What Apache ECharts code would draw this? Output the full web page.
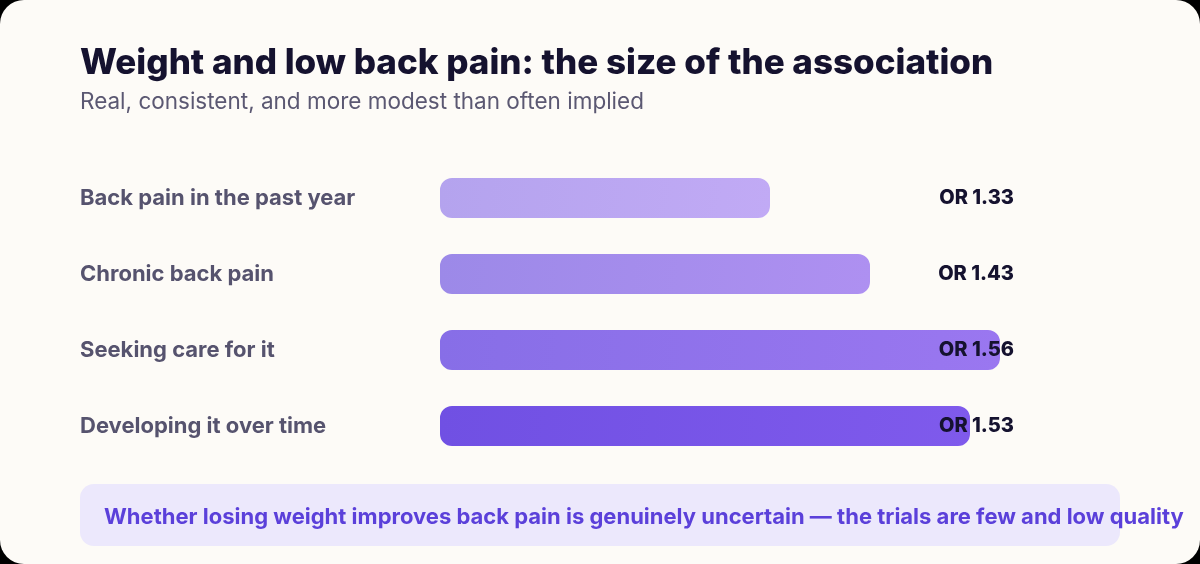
<!DOCTYPE html>
<html>

<head>
    <meta charset="utf-8">
    <script src="https://cdn.jsdelivr.net/npm/echarts@6/dist/echarts.min.js"></script>
    <style>
        html, body { margin: 0; padding: 0; background: #000; }
        #main { width: 1200px; height: 564px; background: #fdfbf7; border-radius: 24px; overflow: hidden; }
    </style>
</head>

<body>
    <div id="main"></div>
    <script type="text/javascript">
        var categories = ['Back pain in the past year', 'Chronic back pain', 'Seeking care for it', 'Developing it over time'];
        var oddsRatios = [1.33, 1.43, 1.56, 1.53];
        // left / right colour of each bar's gradient
        var barColors = [
            ['#b4a3ee', '#c1aaf5'],
            ['#9c89e8', '#ae90f1'],
            ['#876ee7', '#9a77f0'],
            ['#7050e3', '#7f5aec']
        ];
        var footNote = 'Whether losing weight improves back pain is genuinely uncertain \u2014 the trials are few and low quality';

        var FONT = 'Inter';
        var myChart = echarts.init(document.getElementById('main'));

        var barData = oddsRatios.map(function (v, i) {
            return {
                value: v,
                itemStyle: {
                    color: new echarts.graphic.LinearGradient(0, 0, 1, 1, [
                        { offset: 0, color: barColors[i][0] },
                        { offset: 1, color: barColors[i][1] }
                    ])
                }
            };
        });

        var option = {
            backgroundColor: 'transparent',
            title: {
                left: 80,
                top: 46,
                padding: 0,
                text: 'Weight and low back pain: the size of the association',
                subtext: 'Real, consistent, and more modest than often implied',
                itemGap: 10,
                textStyle: { fontFamily: FONT, fontSize: 35, fontWeight: 800, color: '#15122f' },
                subtextStyle: { fontFamily: FONT, fontSize: 22.5, fontWeight: 400, color: '#5b5872' }
            },
            grid: { left: 440, right: 160, top: 160, bottom: 100 },
            xAxis: {
                type: 'value',
                min: 1,
                max: 1.6,
                startValue: 1,
                show: false
            },
            yAxis: [{
                type: 'category',
                inverse: true,
                data: categories,
                axisLine: { show: false },
                axisTick: { show: false },
                axisLabel: {
                    align: 'left',
                    margin: 360,
                    fontFamily: FONT,
                    fontSize: 22,
                    fontWeight: 700,
                    color: '#56536e',
                    padding: [0, 0, 4, 0]
                }
            }, {
                type: 'category',
                inverse: true,
                position: 'right',
                z: 10,
                data: oddsRatios.map(function (v) { return 'OR ' + v.toFixed(2); }),
                axisLine: { show: false },
                axisTick: { show: false },
                axisLabel: {
                    inside: true,
                    margin: 26,
                    fontFamily: FONT,
                    fontSize: 20,
                    fontWeight: 800,
                    color: '#15122f',
                    lineHeight: 26,
                    verticalAlign: 'middle',
                    padding: [6, 0, 0, 0]
                }
            }],
            series: [{
                type: 'bar',
                data: barData,
                barWidth: 40,
                itemStyle: { borderRadius: 12 },
                silent: true
            }],
            graphic: [{
                type: 'rect',
                left: 80,
                top: 484,
                shape: { width: 1040, height: 62, r: 14 },
                style: { fill: '#ece8fc' }
            }, {
                type: 'text',
                left: 104,
                top: 506,
                style: {
                    text: footNote,
                    font: '700 22px ' + FONT,
                    fill: '#5b40da'
                }
            }]
        };

        myChart.setOption(option);
    </script>
</body>

</html>
